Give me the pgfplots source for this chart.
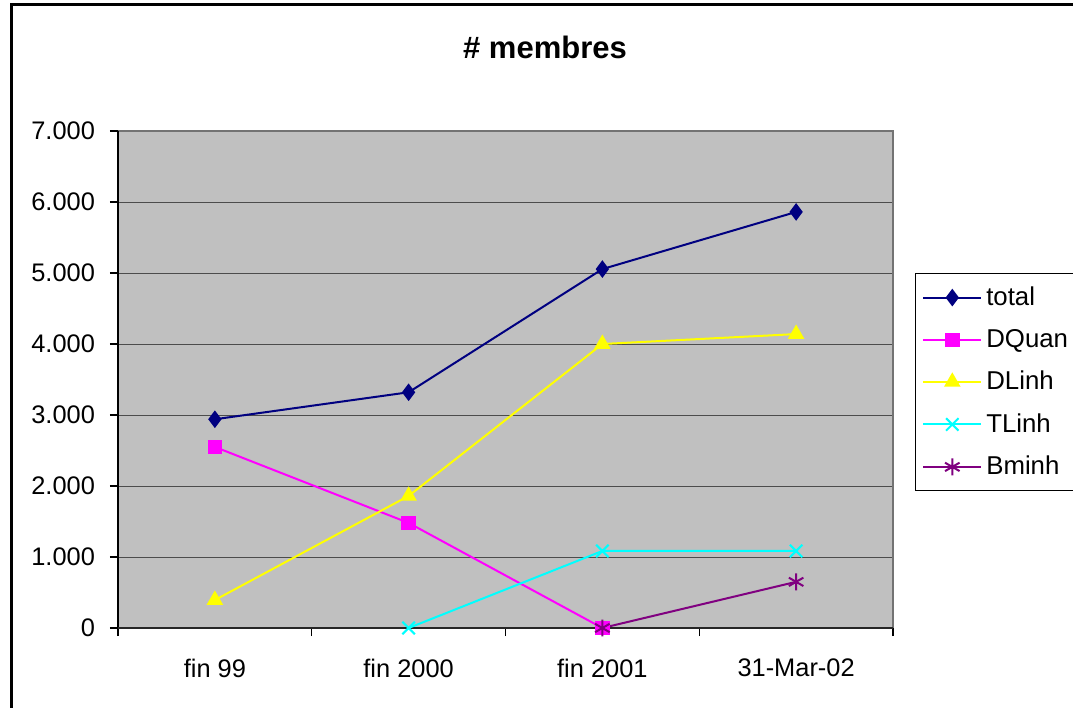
\documentclass[border=0pt]{standalone}
\usepackage{fontspec}
\setmainfont{Liberation Sans}
\usepackage{pgfplots}
\pgfplotsset{compat=1.18}
\definecolor{navyc}{HTML}{000080}
\definecolor{magc}{HTML}{FF00FF}
\definecolor{yelc}{HTML}{FFFF00}
\definecolor{cyac}{HTML}{00FFFF}
\definecolor{purc}{HTML}{800080}
\definecolor{plotbg}{HTML}{C0C0C0}
\begin{document}
\begin{tikzpicture}
\useasboundingbox (0,0) rectangle (536.5pt,354pt);
\fill[white] (0,0) rectangle (536.5pt,354pt);
\draw[line width=1.5pt] (5.75pt,-2pt) -- (5.75pt,351.75pt) -- (540pt,351.75pt);
\node[font=\bfseries\fontsize{15.5}{18}\selectfont] at (272.5pt,330.5pt) {\# membres};
\begin{axis}[
  at={(59pt,40pt)}, anchor=south west,
  scale only axis, width=387.5pt, height=248.5pt,
  xmin=-0.5, xmax=3.5, ymin=0, ymax=7000,
  axis background/.style={fill=plotbg},
  axis line style={draw=none},
  xtick={0,1,2,3},
  xticklabels={fin 99, fin 2000, fin 2001, 31-Mar-02},
  major x tick style={draw=none},
  minor xtick={-0.5,0.5,1.5,2.5,3.5},
  minor x tick style={black, line width=0.6pt},
  minor tick length=4pt,
  ytick={0,1000,...,7000},
  y tick style={black, line width=0.6pt},
  major tick length=4pt,
  tick align=outside,
  xtick pos=bottom, ytick pos=left,
  ymajorgrids,
  grid style={black!70, line width=0.5pt},
  tick label style={font=\fontsize{12.7}{15}\selectfont},
  xticklabel style={yshift=-8pt},
  yticklabel style={xshift=-4pt},
  /pgf/number format/.cd, 1000 sep={.}, assume math mode=true,
  /pgfplots/.cd,
  legend style={at={(1.028,0.714)}, anchor=north west,
    font=\fontsize{12.9}{15}\selectfont, draw=black, line width=0.6pt,
    row sep=6.4pt, inner xsep=3.5pt, inner ysep=4.5pt,
    cells={anchor=west}},
  legend image code/.code={\draw[mark repeat=2,mark phase=2] plot coordinates {(0pt,0pt) (14.5pt,0pt) (29pt,0pt)};},
  clip=false,
]
\draw[black!55, line width=1pt] (axis cs:-0.5,7000) -- (axis cs:3.5,7000) -- (axis cs:3.5,0);
\draw[black, line width=1pt] (axis cs:-0.5,0) -- (axis cs:-0.5,7000);
\draw[black!85, line width=1.2pt] (axis cs:-0.5,0) -- (axis cs:3.5,0);
\addplot[navyc, line width=1pt, mark=diamond*, mark size=3.6pt, mark options={fill=navyc}]
  coordinates {(0,2940) (1,3320) (2,5055) (3,5860)};
\addlegendentry{total}
\addplot[magc, line width=1pt, mark=square*, mark size=3.1pt, mark options={fill=magc}]
  coordinates {(0,2550) (1,1480) (2,0)};
\addlegendentry{DQuan}
\addplot[yelc, line width=1pt, mark=triangle*, mark size=3.8pt, mark options={fill=yelc}]
  coordinates {(0,394) (1,1860) (2,4000) (3,4140)};
\addlegendentry{DLinh}
\addplot[cyac, line width=1pt, mark=x, mark size=4.4pt, mark options={line width=1pt}]
  coordinates {(1,0) (2,1085) (3,1085)};
\addlegendentry{TLinh}
\addplot[purc, line width=1pt, mark=asterisk, mark size=4.2pt, mark options={line width=1pt}]
  coordinates {(2,0) (3,650)};
\addlegendentry{Bminh}
\end{axis}
\end{tikzpicture}
\end{document}
